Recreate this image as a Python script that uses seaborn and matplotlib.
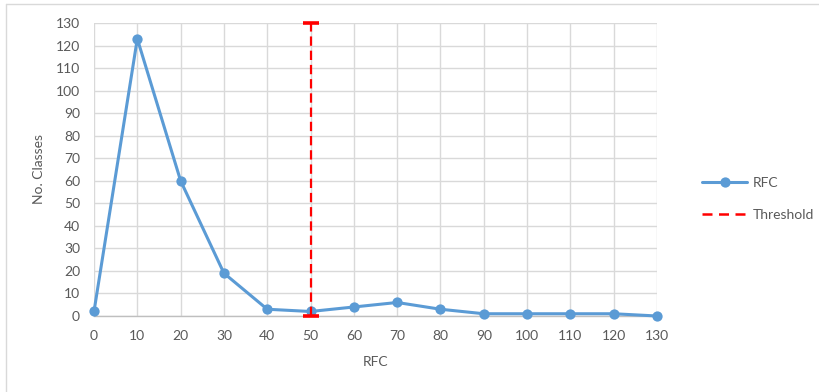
import matplotlib
matplotlib.use("Agg")
import matplotlib.pyplot as plt
from matplotlib.lines import Line2D
import seaborn as sns
import pandas as pd

# RFC value buckets and how many classes fall into each
rfc = [0, 10, 20, 30, 40, 50, 60, 70, 80, 90, 100, 110, 120, 130]
classes = [2, 123, 60, 19, 3, 2, 4, 6, 3, 1, 1, 1, 1, 0]

# vertical threshold marker
threshold_x = [50, 50]
threshold_y = [0, 130]

x_ticks = list(range(0, 131, 10))
y_ticks = list(range(0, 131, 10))

BLUE = "#5b9bd5"
RED = "#ff0000"
TEXT = "#595959"
GRID = "#d9d9d9"
FS = 10

sns.set_theme(style="white")
plt.rcParams["font.family"] = ["Lato", "DejaVu Sans"]

fig = plt.figure(figsize=(8.2, 3.92), dpi=100)
ax = fig.add_axes([94 / 820, 1 - 316 / 392, (657 - 94) / 820, (316 - 23) / 392])

df = pd.DataFrame({"RFC": rfc, "Classes": classes})
sns.lineplot(data=df, x="RFC", y="Classes", ax=ax, color=BLUE, linewidth=2.2,
             marker="o", markersize=7.4, markeredgewidth=0, estimator=None,
             sort=False, clip_on=False, zorder=3)

thr = pd.DataFrame({"x": threshold_x, "y": threshold_y})
sns.lineplot(data=thr, x="x", y="y", ax=ax, color=RED, linewidth=1.6,
             dashes=False, estimator=None, sort=False, clip_on=False, zorder=4)
ax.lines[-1].set_dashes((4.2, 2.2))
# end caps of the threshold line
sns.scatterplot(data=thr, x="x", y="y", ax=ax, marker="_", s=130, color=RED,
                linewidth=2.6, clip_on=False, zorder=5)

ax.set_xlim(0, 130)
ax.set_ylim(0, 130)
ax.set_xticks(x_ticks)
ax.set_yticks(y_ticks)
ax.grid(True, color=GRID, linewidth=1.0)
ax.set_axisbelow(True)
for side in ["top", "left", "right"]:
    ax.spines[side].set_visible(False)
ax.spines["bottom"].set_color("#bfbfbf")
ax.spines["bottom"].set_linewidth(1.0)
ax.tick_params(axis="both", length=0, labelsize=FS, labelcolor=TEXT)
ax.tick_params(axis="y", pad=10)
ax.tick_params(axis="x", pad=10)

ax.set_xlabel("RFC", fontsize=FS, color=TEXT, labelpad=10)
ax.set_ylabel("No. Classes", fontsize=FS, color=TEXT, labelpad=8)

handles = [
    Line2D([0], [0], color=BLUE, linewidth=2.2, marker="o", markersize=7.4,
           markeredgewidth=0),
    Line2D([0], [0], color=RED, linewidth=1.8, dashes=(4, 2.6)),
]
leg = fig.legend(handles, ["RFC", "Threshold"], loc="center left",
                 bbox_to_anchor=(690 / 820, 1 - 199 / 392), frameon=False,
                 fontsize=FS, handlelength=3.2, labelspacing=1.4,
                 handletextpad=0.4)
for t in leg.get_texts():
    t.set_color(TEXT)

# chart area outline
fig.add_artist(Line2D([6 / 820, 1.0], [1 - 4 / 392, 1 - 4 / 392],
                      color=GRID, linewidth=1.0, transform=fig.transFigure))
fig.add_artist(Line2D([6 / 820, 6 / 820], [0.0, 1 - 4 / 392],
                      color=GRID, linewidth=1.0, transform=fig.transFigure))

fig.savefig("out.png", dpi=100)
